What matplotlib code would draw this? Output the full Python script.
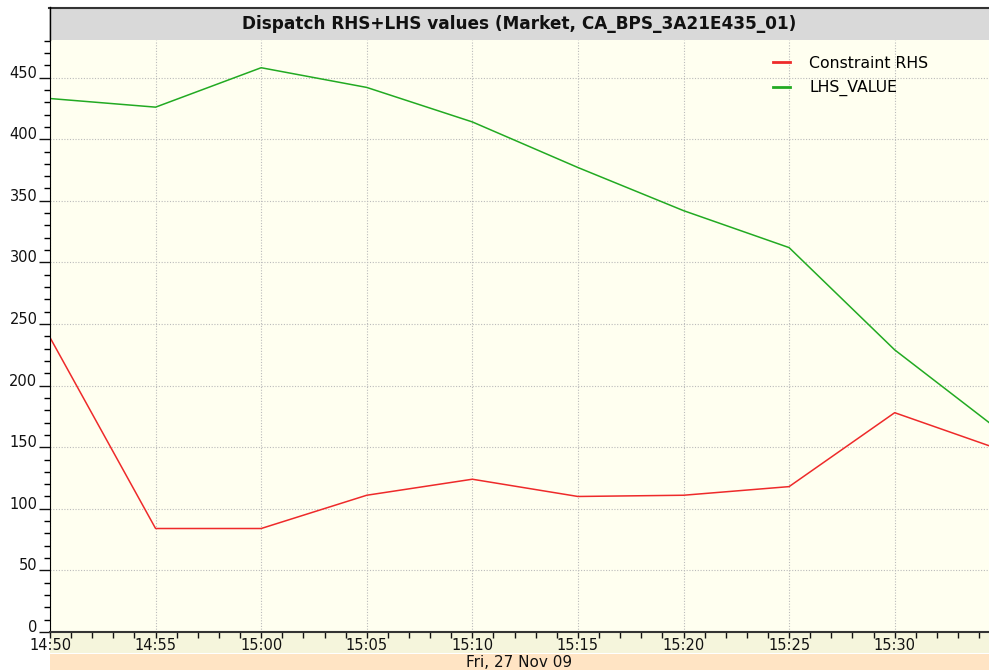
import datetime as dt
import matplotlib
matplotlib.use('Agg')
import matplotlib.pyplot as plt
import matplotlib.dates as mdates
from matplotlib.patches import Rectangle
from matplotlib.ticker import MultipleLocator

plt.rcParams['font.family'] = ['DejaVu Sans']

times = ["14:50", "14:55", "15:00", "15:05", "15:10", "15:15", "15:20", "15:25", "15:30", "15:35"]
rhs = [239, 84, 84, 111, 124, 110, 111, 118, 178, 148]
lhs = [433, 426, 458, 442, 414, 377, 342, 312, 229, 163]

day = dt.datetime(2009, 11, 27)
x = [dt.datetime.combine(day, dt.datetime.strptime(t, "%H:%M").time()) for t in times]

W, H = 989, 670
fig = plt.figure(figsize=(W / 100, H / 100), dpi=100)
fig.patch.set_facecolor('white')

left, right, top, bottom = 50, 989, 40, 632
ax = fig.add_axes([left / W, 1 - bottom / H, (right - left) / W, (bottom - top) / H])
ax.set_facecolor('#FFFFF0')

# title band
fig.patches.append(Rectangle((49 / W, 1 - 40 / H), (W - 49) / W, 32 / H, zorder=-1,
                             transform=fig.transFigure, facecolor='#D9D9D9', edgecolor='none'))
fig.lines.append(plt.Line2D([49 / W, 1], [1 - 7.5 / H, 1 - 7.5 / H], transform=fig.transFigure,
                            color='#333333', lw=1.5))
fig.lines.append(plt.Line2D([49.5 / W, 49.5 / W], [1 - 7 / H, 1 - 40 / H], transform=fig.transFigure,
                            color='black', lw=1))
fig.text((49 + W) / 2 / W, 1 - 24 / H, 'Dispatch RHS+LHS values (Market, CA_BPS_3A21E435_01)',
         ha='center', va='center', fontsize=12.2, fontweight='bold', color='#111111')

# tick label band and date band
fig.patches.append(Rectangle((50 / W, 1 - 653 / H), (W - 50) / W, 21 / H, zorder=-1,
                             transform=fig.transFigure, facecolor='#F5F5DC', edgecolor='none'))
fig.patches.append(Rectangle((50 / W, 0), (W - 50) / W, 16 / H, zorder=-1,
                             transform=fig.transFigure, facecolor='#FFE4C4', edgecolor='none'))
fig.text((50 + W) / 2 / W, 1 - 662.5 / H, 'Fri, 27 Nov 09', ha='center', va='center',
         fontsize=11, color='#111111')

ax.plot(x, rhs, color='#EE2A2A', lw=1.1, label='Constraint RHS')
ax.plot(x, lhs, color='#22AA22', lw=1.1, label='LHS_VALUE')

ax.set_xlim(x[0], x[0] + dt.timedelta(minutes=44, seconds=28))
ax.set_ylim(0, 480.5)

ax.xaxis.set_major_locator(mdates.MinuteLocator(byminute=range(0, 60, 5)))
ax.xaxis.set_minor_locator(mdates.MinuteLocator())
ax.xaxis.set_major_formatter(mdates.DateFormatter('%H:%M'))
ax.yaxis.set_major_locator(MultipleLocator(50))
ax.yaxis.set_minor_locator(MultipleLocator(10))

ax.grid(True, which='major', linestyle=(0, (1, 1.5)), color='#BBBBBB', lw=0.8)

for s in ['top', 'right']:
    ax.spines[s].set_visible(False)
ax.spines['left'].set_color('black')
ax.spines['bottom'].set_color('#333333')
ax.spines['bottom'].set_linewidth(1.5)

ax.tick_params(axis='x', which='both', direction='out', length=4, width=1, pad=0,
               labelsize=10.5, colors='#111111')
ax.tick_params(axis='y', which='major', direction='out', length=8, width=1, pad=1,
               labelsize=10.5, colors='#111111')
ax.tick_params(axis='y', which='minor', direction='out', length=4, width=1)
for lab in ax.get_yticklabels():
    lab.set_va('baseline')

leg = ax.legend(loc='upper right', bbox_to_anchor=(0.942, 0.984), borderaxespad=0, frameon=False,
                fontsize=11.3, handlelength=1.1, handletextpad=1.2, labelspacing=0.6)
for ln in leg.get_lines():
    ln.set_linewidth(2)

fig.savefig('out.png', dpi=100)
